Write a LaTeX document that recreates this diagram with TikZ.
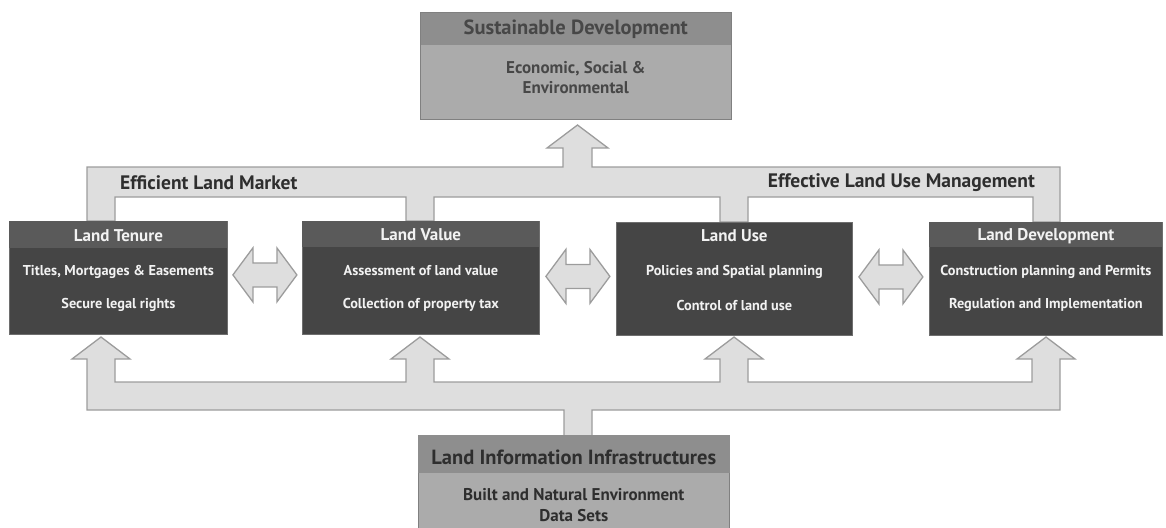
\documentclass[tikz,border=0pt]{standalone}
\usepackage{fontspec}
\setmainfont{PT Sans}
\usetikzlibrary{calc}
\definecolor{band}{HTML}{DEDEDE}
\definecolor{bandline}{HTML}{9C9C9C}
\definecolor{dbox}{HTML}{454545}
\definecolor{dhdr}{HTML}{5A5A5A}
\definecolor{dline}{HTML}{6E6E6E}
\definecolor{lbody}{HTML}{ABABAB}
\definecolor{lhdr}{HTML}{8E8E8E}
\definecolor{ltxt}{HTML}{474747}
\definecolor{btxt}{HTML}{2E2E2E}
\definecolor{wtxt}{HTML}{F2F2F2}
\begin{document}
\begin{tikzpicture}[x=1pt,y=-1pt,
  bandstyle/.style={fill=band, draw=bandline, line width=1.3pt, line join=miter},
  darkbox/.style={draw=dline, line width=0.8pt, fill=dbox, minimum width=#1, minimum height=113pt, inner sep=0pt, anchor=north west},
  lightbox/.style={draw=lhdr!90!black, line width=0.6pt, fill=lbody, minimum width=311pt, minimum height=#1, inner sep=0pt, anchor=north west},
  hdrtext/.style={text=wtxt, font=\fontsize{17}{19}\selectfont\bfseries},
  bodytext/.style={text=wtxt, font=\fontsize{14.3}{16}\selectfont\bfseries},
  bandlabel/.style={text=btxt, font=\fontsize{19.5}{21}\selectfont\bfseries, inner sep=0pt},
  dbl/.pic={\draw[bandstyle] (-32,0) -- (-12,-27) -- (-12,-12) -- (12,-12) -- (12,-27) -- (32,0) -- (12,27) -- (12,12) -- (-12,12) -- (-12,27) -- cycle;}
]
\useasboundingbox (0,0) rectangle (1166,527);

% upper band with legs and arrow to top box
\draw[bandstyle] (87,221) -- (87,167) -- (563,167) -- (563,148) -- (547,148) -- (577.5,125)
  -- (608,148) -- (592,148) -- (592,167) -- (1060,167) -- (1060,222) -- (1033,222)
  -- (1033,197) -- (748,197) -- (748,222) -- (720,222) -- (720,197) -- (434,197)
  -- (434,221) -- (406,221) -- (406,197) -- (115,197) -- (115,221) -- cycle;

% lower band with four up arrows and stem
\draw[bandstyle] (101,337) -- (130,359) -- (115,359) -- (115,382) -- (406,382) -- (406,359)
  -- (391,359) -- (420,337) -- (449,359) -- (434,359) -- (434,382) -- (720,382) -- (720,359)
  -- (705,359) -- (734,337) -- (763,359) -- (748,359) -- (748,382) -- (1032,382) -- (1032,359)
  -- (1017,359) -- (1046,337) -- (1075,359) -- (1060,359) -- (1060,410) -- (592,410)
  -- (592,436) -- (564,436) -- (564,410) -- (87,410) -- (87,359) -- (72,359) -- cycle;

% band labels
\node[bandlabel, anchor=west] (elm) at (120,183) {Efficient Land Market};
\node[bandlabel, anchor=east] (elum) at (1035,183) {Effective Land Use Management};

% top box
\node[lightbox=107pt] (sd) at (420,12) {};
\fill[lhdr] (sd.north west) rectangle ($(sd.north east)+(0,33)$);
\draw[lhdr!90!black, line width=0.6pt] (sd.north west) rectangle (sd.south east);
\node[text=ltxt, font=\fontsize{20.5}{22}\selectfont\bfseries] (sdh) at ($(sd.north)+(0,17)$) {Sustainable Development};
\node[text=ltxt, font=\fontsize{17}{20}\selectfont\bfseries, align=center] (sdb) at ($(sd.north)+(0,66)$) {Economic, Social \&\\Environmental};

% bottom box
\node[lightbox=100pt] (lii) at (418,435) {};
\fill[lhdr] (lii.north west) rectangle ($(lii.north east)+(0,38)$);
\node[text=btxt, font=\fontsize{20.5}{22}\selectfont\bfseries] (liih) at ($(lii.north)+(0,22)$) {Land Information Infrastructures};
\node[text=btxt, font=\fontsize{17}{21}\selectfont\bfseries, align=center] (liib) at ($(lii.north)+(0,70)$) {Built and Natural Environment\\Data Sets};

% dark boxes
\node[darkbox=218pt] (lt) at (9,221) {};
\fill[dhdr] ($(lt.north west)+(0.4,0.4)$) rectangle ($(lt.north east)+(-0.4,27)$);
\node[hdrtext] at ($(lt.north)+(0,15)$) {Land Tenure};
\node[bodytext] at ($(lt.north)+(0,51)$) {Titles, Mortgages \& Easements};
\node[bodytext] at ($(lt.north)+(0,84)$) {Secure legal rights};

\node[darkbox=237pt] (lv) at (302,221) {};
\fill[dhdr] ($(lv.north west)+(0.4,0.4)$) rectangle ($(lv.north east)+(-0.4,26)$);
\node[hdrtext] at ($(lv.north)+(0,14)$) {Land Value};
\node[bodytext] at ($(lv.north)+(0,50)$) {Assessment of land value};
\node[bodytext] at ($(lv.north)+(0,84)$) {Collection of property tax};

\node[darkbox=236pt] (lu) at (616,222) {};
\node[hdrtext] at ($(lu.north)+(0,14)$) {Land Use};
\node[bodytext] at ($(lu.north)+(0,50)$) {Policies and Spatial planning};
\node[bodytext] at ($(lu.north)+(0,83)$) {Control of land use};

\node[darkbox=233pt] (ld) at (929,222) {};
\fill[dhdr] ($(ld.north west)+(0.4,0.4)$) rectangle ($(ld.north east)+(-0.4,25)$);
\node[hdrtext] at ($(ld.north)+(0,14)$) {Land Development};
\node[bodytext] at ($(ld.north)+(0,50)$) {Construction planning and Permits};
\node[bodytext] at ($(ld.north)+(0,83)$) {Regulation and Implementation};

% double arrows between boxes
\pic at ($(lt.east)!0.5!(lv.west)+(0,-3)$) {dbl};
\pic at ($(lv.east)!0.5!(lu.west)+(0,-2)$) {dbl};
\pic at ($(lu.east)!0.5!(ld.west)+(0,-2)$) {dbl};
\end{tikzpicture}
\end{document}
